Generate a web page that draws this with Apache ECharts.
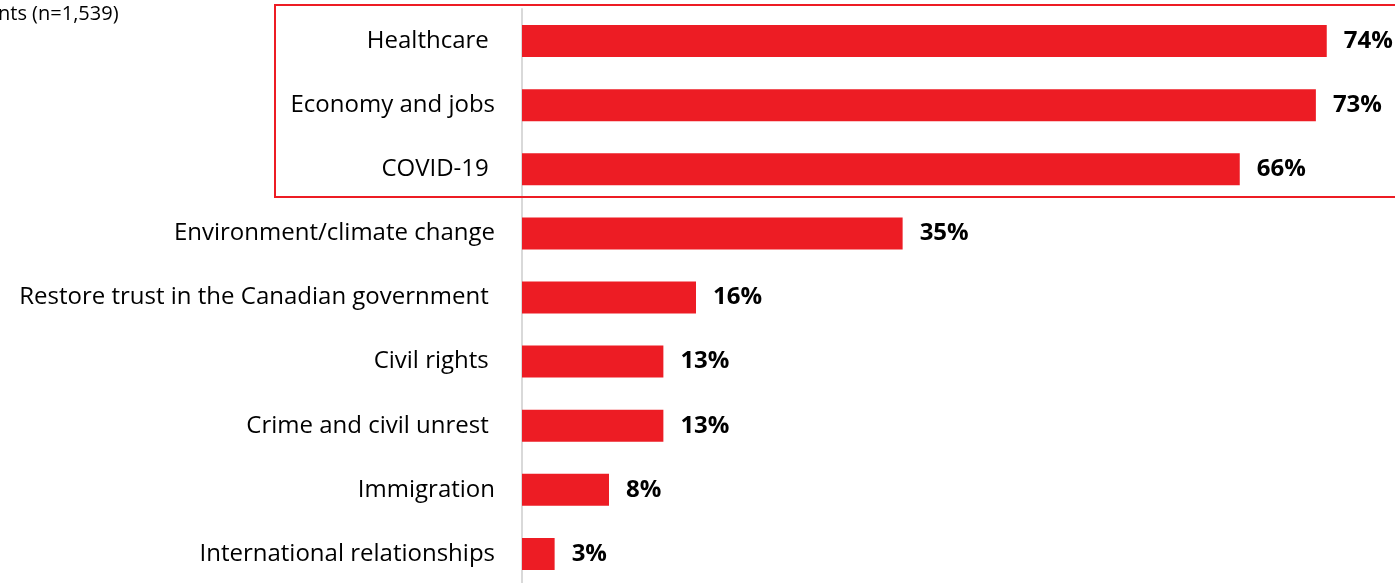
<!DOCTYPE html>
<html>
<head>
<meta charset="utf-8">
<script src="https://cdn.jsdelivr.net/npm/echarts@6/dist/echarts.min.js"></script>
<style>
html,body{margin:0;padding:0;background:#fff;overflow:hidden;}
#chart{width:1395px;height:600px;}
</style>
</head>
<body>
<div id="chart"></div>
<script>
var categories = [
  "Healthcare ",
  "Economy and jobs",
  "COVID-19 ",
  "Environment/climate change",
  "Restore trust in the Canadian government ",
  "Civil rights ",
  "Crime and civil unrest ",
  "Immigration",
  "International relationships"
];
var values = [74, 73, 66, 35, 16, 13, 13, 8, 3];
var baseNote = "nts (n=1,539)";

var chart = echarts.init(document.getElementById('chart'));
var FONT = '"Open Sans", sans-serif';
chart.setOption({
  animation: false,
  grid: { left: 522, top: 9, width: 870, height: 577, containLabel: false },
  xAxis: {
    type: 'value', min: 0, max: 80,
    show: false
  },
  yAxis: {
    type: 'category',
    data: categories,
    inverse: true,
    axisLine: { show: true, lineStyle: { color: '#d9d9d9', width: 2 } },
    axisTick: { show: false },
    axisLabel: { color: '#000', fontSize: 24, fontFamily: FONT, margin: 27 }
  },
  series: [{
    type: 'bar',
    data: values,
    barWidth: 32,
    itemStyle: { color: '#ed1c24' },
    label: {
      show: true, position: 'right', distance: 17,
      formatter: '{c}%',
      color: '#000', fontWeight: 'bold', fontSize: 24, fontFamily: FONT
    }
  }],
  graphic: [
    { type: 'text', left: -2, top: 4,
      style: { text: baseNote, fontSize: 20, fontFamily: FONT, fill: '#000' } },
    { type: 'rect', shape: { x: 275, y: 5, width: 1130, height: 192 },
      style: { fill: 'none', stroke: '#ed1c24', lineWidth: 2 }, z: 100 }
  ]
});
</script>
</body>
</html>
